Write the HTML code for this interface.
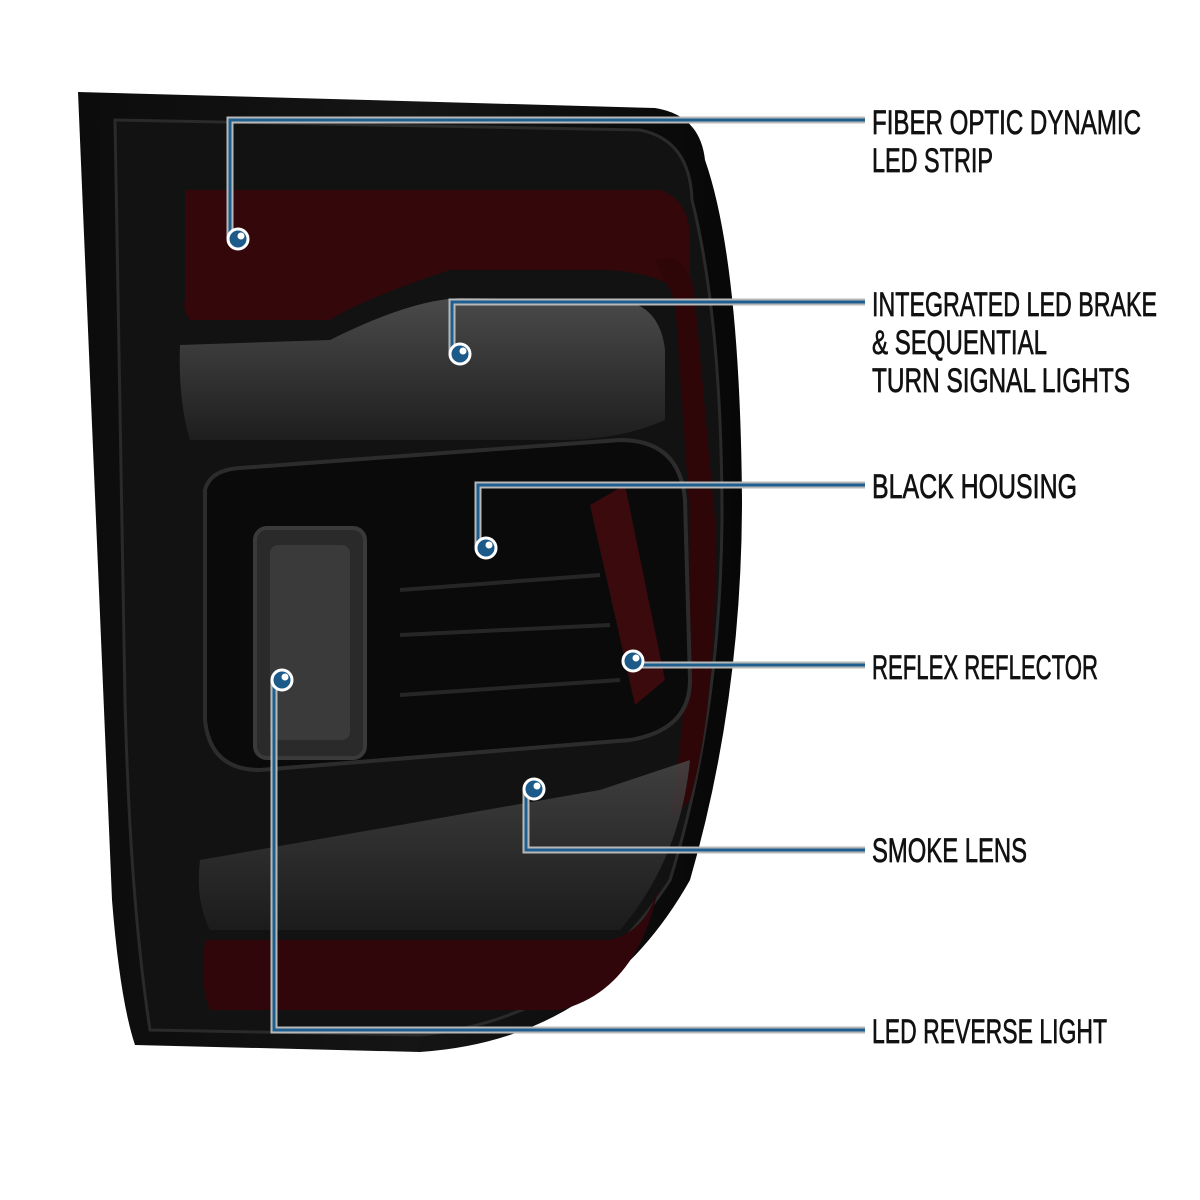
<!DOCTYPE html>
<html><head><style>
body{margin:0;background:#fff;width:1200px;height:1200px;overflow:hidden}
svg{display:block}
text{font-family:"Liberation Sans",sans-serif;font-size:34px;fill:#111;stroke:#111;stroke-width:0.7}
</style></head><body>
<svg width="1200" height="1200" viewBox="0 0 1200 1200">
<defs>
<linearGradient id="hb" x1="0" x2="1"><stop offset="0" stop-color="#0c0c0c"/><stop offset="0.5" stop-color="#151515"/><stop offset="1" stop-color="#070707"/></linearGradient>
<linearGradient id="lens" x1="0" y1="0" x2="0" y2="1"><stop offset="0" stop-color="#4a4a4a"/><stop offset="1" stop-color="#1e1e1e"/></linearGradient>
</defs>
<path d="M78 92 L655 108 Q700 115 705 160 Q740 260 742 500 Q742 700 690 880 Q600 1040 420 1052 L135 1045 Q120 1000 112 900 Z" fill="url(#hb)"/>
<path d="M115 120 L640 130 Q690 140 692 200 Q722 320 722 520 Q720 720 670 880 Q580 1020 420 1035 L150 1030 Q130 900 125 700 Z" fill="#121212" stroke="#2a2a2a" stroke-width="3"/>
<path d="M185 190 L660 190 Q690 200 690 240 L690 300 Q660 270 600 270 L450 270 Q360 300 330 320 L190 320 Q182 310 185 300 Z" fill="#34070a"/>
<path d="M655 260 Q690 250 695 300 L715 520 Q718 700 690 800 L670 820 Q690 700 690 520 L675 300 Z" fill="#2e0608"/>
<path d="M205 940 L610 940 Q650 930 660 880 Q640 990 560 1010 L210 1010 Q200 990 205 940 Z" fill="#30060a"/>
<path d="M180 345 L330 340 Q410 300 460 298 L620 300 Q660 305 665 350 L665 420 Q620 440 560 440 L190 440 Q178 400 180 345 Z" fill="url(#lens)"/>
<path d="M205 490 Q210 470 240 468 L620 440 Q680 440 685 500 L690 680 Q690 730 630 740 L260 770 Q210 770 205 720 Z" fill="#0a0a0a" stroke="#2c2c2c" stroke-width="4"/>
<path d="M400 590 L600 575 M400 635 L610 625 M400 695 L620 680" stroke="#262626" stroke-width="4"/>
<path d="M590 505 L625 485 L665 680 L635 705 Z" fill="#3a0a0c"/>
<rect x="255" y="528" width="110" height="230" rx="12" fill="#2a2a2a" stroke="#3a3a3a" stroke-width="4"/>
<rect x="270" y="545" width="80" height="195" rx="8" fill="#3a3a3a"/>
<path d="M200 860 L600 790 Q660 770 690 760 Q680 860 620 930 L210 930 Q195 900 200 860 Z" fill="url(#lens)" opacity="0.8"/>
<g fill="none">
<g stroke="#b8b8b8" stroke-width="7">
<path d="M230 239 V120 H865"/><path d="M452 354 V302 H865"/><path d="M478 548 V485 H865"/>
<path d="M633 665 H865"/><path d="M526 789 V850 H865"/><path d="M274 680 V1030 H865"/>
</g>
<g stroke="#1f5f8f" stroke-width="3">
<path d="M230 239 V120 H865"/><path d="M452 354 V302 H865"/><path d="M478 548 V485 H865"/>
<path d="M633 665 H865"/><path d="M526 789 V850 H865"/><path d="M274 680 V1030 H865"/>
</g>
</g>
<g stroke="#fff" stroke-width="3" fill="#1c5a8a">
<circle cx="238" cy="239" r="10"/><circle cx="460" cy="354" r="10"/><circle cx="486" cy="548" r="10"/>
<circle cx="633" cy="661" r="10"/><circle cx="534" cy="789" r="10"/><circle cx="282" cy="680" r="10"/>
</g>
<g fill="#fff">
<circle cx="241" cy="236" r="3.5"/><circle cx="463" cy="351" r="3.5"/><circle cx="489" cy="545" r="3.5"/>
<circle cx="636" cy="658" r="3.5"/><circle cx="537" cy="786" r="3.5"/><circle cx="285" cy="677" r="3.5"/>
</g>
<text x="872" y="134" textLength="269" lengthAdjust="spacingAndGlyphs">FIBER OPTIC DYNAMIC</text>
<text x="872" y="172" textLength="121" lengthAdjust="spacingAndGlyphs">LED STRIP</text>
<text x="872" y="316" textLength="285" lengthAdjust="spacingAndGlyphs">INTEGRATED LED BRAKE</text>
<text x="872" y="354" textLength="175" lengthAdjust="spacingAndGlyphs">&amp; SEQUENTIAL</text>
<text x="872" y="392" textLength="258" lengthAdjust="spacingAndGlyphs">TURN SIGNAL LIGHTS</text>
<text x="872" y="498" textLength="205" lengthAdjust="spacingAndGlyphs">BLACK HOUSING</text>
<text x="872" y="679" textLength="226" lengthAdjust="spacingAndGlyphs">REFLEX REFLECTOR</text>
<text x="872" y="862" textLength="155" lengthAdjust="spacingAndGlyphs">SMOKE LENS</text>
<text x="872" y="1043" textLength="235" lengthAdjust="spacingAndGlyphs">LED REVERSE LIGHT</text>
</svg>
</body></html>
